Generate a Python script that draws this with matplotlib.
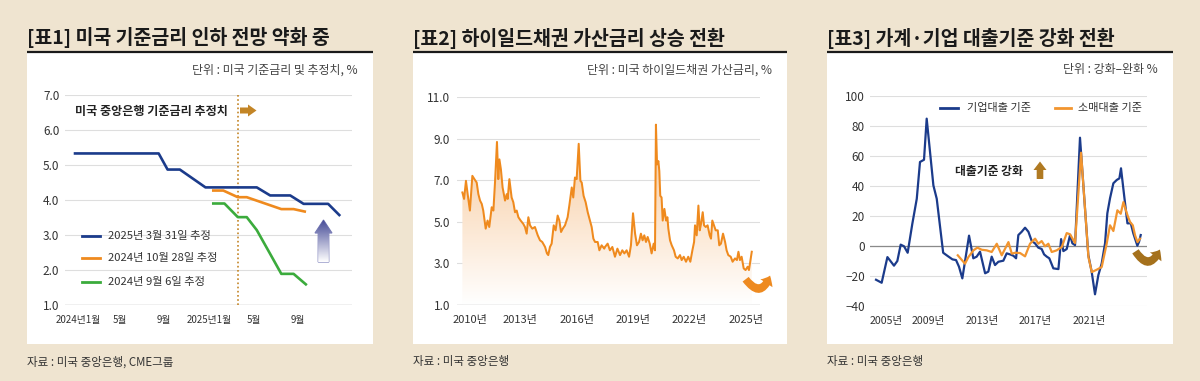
import numpy as np
import matplotlib
matplotlib.use('Agg')
import matplotlib.pyplot as plt
from matplotlib.patches import Rectangle, Polygon, FancyArrowPatch, ArrowStyle
from matplotlib.colors import LinearSegmentedColormap

plt.rcParams['font.family'] = ['Noto Sans CJK KR', 'DejaVu Sans']
plt.rcParams['axes.unicode_minus'] = True

# ---------------- data ----------------
titles = ['[표1] 미국 기준금리 인하 전망 약화 중',
          '[표2] 하이일드채권 가산금리 상승 전환',
          '[표3] 가계·기업 대출기준 강화 전환']
units = ['단위 : 미국 기준금리 및 추정치, %',
         '단위 : 미국 하이일드채권 가산금리, %',
         '단위 : 강화–완화 %']
sources = ['자료 : 미국 중앙은행, CME그룹', '자료 : 미국 중앙은행', '자료 : 미국 중앙은행']

# Panel 1 : months since 2024-01
p1_xticks = [0, 4, 8, 12, 16, 20]
p1_xlabels = ['2024년1월', '5월', '9월', '2025년1월', '5월', '9월']
p1_yticks = [1, 2, 3, 4, 5, 6, 7]
est_0331_m = [0, 7.5, 8.3, 9.4, 11.7, 16.3, 17.5, 19.3, 20.5, 22.7, 23.7]
est_0331_v = [5.33, 5.33, 4.87, 4.87, 4.36, 4.36, 4.13, 4.13, 3.89, 3.89, 3.57]
est_1028_m = [12.4, 13.3, 14.6, 15.4, 18.5, 19.6, 20.6]
est_1028_v = [4.27, 4.27, 4.08, 4.08, 3.74, 3.74, 3.67]
est_0906_m = [12.4, 13.4, 14.6, 15.4, 16.3, 17.5, 18.5, 19.6, 20.7]
est_0906_v = [3.90, 3.90, 3.51, 3.51, 3.14, 2.46, 1.89, 1.89, 1.59]
p1_now_m = 14.6
p1_labels = ['2025년 3월 31일 추정', '2024년 10월 28일 추정', '2024년 9월 6일 추정']

# Panel 2 : high-yield spread
p2_xticks = [2010, 2013, 2016, 2019, 2022, 2025]
p2_yticks = [1, 3, 5, 7, 9, 11]
hy_year = [2009.92, 2010.01, 2010.11, 2010.20, 2010.32, 2010.45, 2010.56, 2010.68, 2010.77, 2010.86,
           2010.95, 2011.03, 2011.16, 2011.26, 2011.35, 2011.48, 2011.57, 2011.66, 2011.76, 2011.83,
           2011.89, 2011.97, 2012.06, 2012.19, 2012.28, 2012.33, 2012.42, 2012.54, 2012.63, 2012.72,
           2012.81, 2012.90, 2013.02, 2013.16, 2013.25, 2013.34, 2013.43, 2013.52, 2013.64, 2013.78,
           2013.93, 2014.05, 2014.17, 2014.32, 2014.42, 2014.49, 2014.58, 2014.67, 2014.78, 2014.88,
           2014.99, 2015.08, 2015.17, 2015.26, 2015.38, 2015.52, 2015.61, 2015.74, 2015.82, 2015.91,
           2016.00, 2016.11, 2016.20, 2016.27, 2016.37, 2016.48, 2016.59, 2016.71, 2016.80, 2016.89,
           2016.98, 2017.12, 2017.21, 2017.33, 2017.47, 2017.51, 2017.65, 2017.77, 2017.90, 2018.04,
           2018.17, 2018.31, 2018.43, 2018.54, 2018.66, 2018.79, 2018.89, 2019.00, 2019.11, 2019.21,
           2019.32, 2019.42, 2019.51, 2019.60, 2019.69, 2019.78, 2019.89, 2019.99, 2020.10, 2020.17,
           2020.22, 2020.28, 2020.35, 2020.40, 2020.45, 2020.52, 2020.58, 2020.67, 2020.76, 2020.83,
           2020.88, 2020.97, 2021.06, 2021.18, 2021.27, 2021.38, 2021.50, 2021.59, 2021.70, 2021.82,
           2021.94, 2022.05, 2022.16, 2022.25, 2022.30, 2022.39, 2022.48, 2022.55, 2022.62, 2022.71,
           2022.78, 2022.87, 2022.97, 2023.08, 2023.15, 2023.22, 2023.31, 2023.40, 2023.51, 2023.59,
           2023.68, 2023.79, 2023.90, 2023.98, 2024.07, 2024.20, 2024.30, 2024.43, 2024.53, 2024.61,
           2024.69, 2024.78, 2024.89, 2024.99, 2025.10, 2025.17, 2025.24, 2025.32]
hy_val = [6.41, 6.10, 6.97, 6.33, 5.54, 7.21, 7.05, 6.89, 6.33, 6.02,
          5.86, 5.54, 4.67, 5.06, 4.75, 5.70, 5.54, 6.97, 8.84, 7.05,
          8.00, 7.52, 6.65, 6.02, 6.33, 6.10, 7.05, 6.17, 5.94, 5.46,
          5.54, 5.22, 5.06, 4.90, 4.75, 4.43, 5.22, 4.83, 4.67, 4.75,
          4.35, 4.11, 4.03, 3.79, 3.48, 3.40, 3.79, 3.95, 4.83, 4.59,
          5.30, 5.06, 4.51, 4.67, 4.83, 5.22, 5.78, 6.65, 6.17, 7.13,
          7.05, 8.75, 6.97, 6.89, 6.25, 5.94, 5.46, 5.06, 4.75, 4.19,
          4.03, 4.03, 3.63, 3.87, 3.71, 3.79, 3.95, 3.63, 3.79, 3.32,
          3.71, 3.40, 3.63, 3.48, 3.63, 3.32, 3.87, 5.41, 4.43, 3.87,
          4.03, 4.43, 4.11, 4.35, 4.03, 4.27, 3.95, 3.48, 3.95, 3.63,
          9.67, 7.76, 7.92, 7.44, 6.25, 6.17, 5.06, 5.62, 5.06, 5.22,
          4.67, 4.11, 3.87, 3.63, 3.32, 3.24, 3.40, 3.16, 3.32, 3.08,
          3.32, 3.08, 3.63, 4.03, 4.83, 4.35, 5.78, 4.59, 4.90, 5.46,
          4.83, 4.75, 4.83, 4.35, 4.19, 5.06, 4.83, 4.59, 4.59, 3.87,
          3.95, 4.43, 4.03, 3.63, 3.40, 3.32, 3.08, 3.24, 3.16, 3.56,
          3.16, 3.32, 2.76, 2.68, 2.84, 2.68, 3.08, 3.56]

# Panel 3 : loan standards (net % tightening)
p3_xticks = [2005, 2009, 2013, 2017, 2021]
p3_yticks = [-40, -20, 0, 20, 40, 60, 80, 100]
biz_year = [2005.09, 2005.51, 2005.94, 2006.43, 2006.68, 2006.93, 2007.18, 2007.45, 2007.80, 2008.13,
            2008.37, 2008.67, 2008.87, 2009.37, 2009.62, 2010.10, 2010.44, 2010.79, 2011.06, 2011.28,
            2011.53, 2012.03, 2012.35, 2012.60, 2012.85, 2013.23, 2013.47, 2013.72, 2013.97, 2014.22,
            2014.59, 2014.84, 2015.09, 2015.34, 2015.54, 2015.71, 2015.96, 2016.21, 2016.46, 2016.71,
            2016.95, 2017.20, 2017.45, 2017.63, 2017.83, 2018.02, 2018.32, 2018.70, 2018.90, 2019.07,
            2019.32, 2019.57, 2019.74, 2019.94, 2020.31, 2020.93, 2021.18, 2021.43, 2021.68, 2021.93,
            2022.18, 2022.35, 2022.55, 2022.80, 2023.05, 2023.25, 2023.37, 2023.60, 2023.85, 2024.10,
            2024.29, 2024.59, 2024.72, 2024.84]
biz_val = [-22.7, -24.7, -7.6, -13.3, -10.2, 0.7, -0.4, -4.7, 14.7, 31.3,
           55.8, 57.3, 84.7, 40.2, 31.3, -4.7, -6.9, -9.1, -9.6, -14.0,
           -21.8, 6.7, -8.4, -7.3, -4.0, -18.4, -17.3, -7.3, -12.9, -10.7,
           -10.0, -5.1, -5.8, -6.7, -8.4, 7.1, 9.3, 12.0, 9.3, 3.1,
           1.6, -1.3, -2.2, -5.8, -7.3, -8.4, -15.1, -15.6, 4.4, -3.6,
           -2.2, 7.1, 1.6, 0.4, 72.0, -6.2, -17.3, -32.4, -19.6, -11.8,
           1.6, 21.6, 31.6, 41.6, 43.8, 44.9, 51.6, 33.8, 14.9, 14.9,
           8.2, 0.0, 2.7, 7.1]
con_year = [2011.19, 2011.73, 2011.98, 2012.36, 2012.65, 2012.98, 2013.35, 2013.72, 2014.10, 2014.47,
            2014.97, 2015.22, 2015.47, 2015.84, 2016.21, 2016.58, 2016.96, 2017.20, 2017.45, 2017.70,
            2017.95, 2018.20, 2018.57, 2018.95, 2019.32, 2019.57, 2019.94, 2020.39, 2020.94, 2021.19,
            2021.56, 2021.93, 2022.30, 2022.55, 2022.80, 2023.10, 2023.35, 2023.55, 2023.75, 2023.90,
            2024.05, 2024.25, 2024.42, 2024.60, 2024.79]
con_val = [-6.4, -12.0, -7.6, -3.1, -1.3, -2.7, -3.1, -4.2, 1.3, -6.4,
           2.4, -5.3, -4.7, -4.9, -7.1, 1.3, 4.7, 1.3, 3.1, -0.4,
           1.3, -4.2, -3.1, -0.9, 8.4, 7.6, 1.8, 62.0, -7.6, -17.6,
           -16.0, -14.2, 1.3, 13.6, 9.8, 23.6, 21.3, 29.1, 23.1, 19.1,
           15.8, 13.6, 6.9, 2.4, 4.7]
p3_labels = ['기업대출 기준', '소매대출 기준']

# ---------------- styling ----------------
W, H = 1200, 381
BG = '#efe4d0'
NAVY = '#1b3b8b'
ORANGE = '#ef8a1e'
GREEN = '#3bab3c'
BROWN = '#c38526'
TXT = '#333333'

fig = plt.figure(figsize=(12, 3.81), dpi=100)
fig.patch.set_facecolor(BG)

bg = fig.add_axes([0, 0, 1, 1], zorder=0, label='bg')
bg.set_xlim(0, W); bg.set_ylim(H, 0); bg.axis('off')

panels = [(27, 373), (413, 787), (827, 1173)]
for (l, r), t, u, s in zip(panels, titles, units, sources):
    bg.add_patch(Rectangle((l, 53), r - l, 344 - 53, facecolor='white', edgecolor='none'))
    bg.plot([l, r], [52, 52], color='#1a1a1a', lw=1.6, solid_capstyle='butt')
    bg.text(l, 38, t, fontsize=14, fontweight='heavy', ha='left', va='center', color='#1a1a1a')
    bg.text(r - 15, 70, u, fontsize=8.6, ha='right', va='center', color='#444444')
    bg.text(l, 362, s, fontsize=8.3, ha='left', va='center', color=TXT)


def add_axes_px(left, top, right, bottom):
    return fig.add_axes([left / W, 1 - bottom / H, (right - left) / W, (bottom - top) / H], zorder=2)


def style(ax, yticks, ylabels, pad):
    ax.set_facecolor('none')
    for sp in ax.spines.values():
        sp.set_visible(False)
    ax.set_yticks(yticks)
    ax.set_yticklabels(ylabels)
    ax.grid(axis='y', color='#dedede', lw=0.8)
    ax.set_axisbelow(True)
    ax.set_xticks([])
    ax.tick_params(axis='y', length=0, labelsize=8.5, colors=TXT, pad=pad)


def xlabels(ax, pos, labs, size, first_dx=0):
    for i, (p, lab) in enumerate(zip(pos, labs)):
        ax.annotate(lab, xy=(p, 0), xycoords=('data', 'axes fraction'),
                    xytext=(first_dx if i == 0 else 0, -10.8), textcoords='offset points',
                    ha='center', va='center', fontsize=size, color=TXT, annotation_clip=False)


# ---- Panel 1 ----
ax1 = add_axes_px(65, 95, 352, 305)
ax1.set_xlim(-0.9, 24.84); ax1.set_ylim(1, 7)
style(ax1, p1_yticks, [f'{v:.1f}' for v in p1_yticks], 4.0)
ax1.axhline(1, color='#9a9a9a', lw=0.9)
ax1.axvline(p1_now_m, color=BROWN, lw=1.2, ls=(0, (1, 1.5)))
ax1.plot(est_0331_m, est_0331_v, color=NAVY, lw=1.9)
ax1.plot(est_1028_m, est_1028_v, color=ORANGE, lw=1.9)
ax1.plot(est_0906_m, est_0906_v, color=GREEN, lw=1.9)
xlabels(ax1, p1_xticks, p1_xlabels, 7.0, first_dx=2)

# ---- Panel 2 ----
ax2 = add_axes_px(457, 97, 760, 305)
style(ax2, p2_yticks, [f'{v:.1f}' for v in p2_yticks], 5)
ax2.axhline(1, color='#9a9a9a', lw=0.9)
cmap = LinearSegmentedColormap.from_list('f', ['#ffffff', '#f7c594'])
grad = np.linspace(0, 1, 256).reshape(-1, 1)
im = ax2.imshow(grad, extent=[hy_year[0], hy_year[-1], 1, 10], origin='lower',
                aspect='auto', cmap=cmap, zorder=1.5)
verts = list(zip(hy_year, hy_val)) + [(hy_year[-1], 1.0), (hy_year[0], 1.0)]
clip = Polygon(verts, closed=True, facecolor='none', edgecolor='none', transform=ax2.transData)
ax2.add_patch(clip)
im.set_clip_path(clip)
ax2.plot(hy_year, hy_val, color=ORANGE, lw=1.45, zorder=3)
ax2.set_xlim(2009.633, 2025.758); ax2.set_ylim(1, 11)
xlabels(ax2, p2_xticks, [f'{y}년' for y in p2_xticks], 8.0, first_dx=4.5)

# ---- Panel 3 ----
ax3 = add_axes_px(870, 95.7, 1147, 305.7)
ax3.set_xlim(2004.64, 2025.31); ax3.set_ylim(-40, 100)
style(ax3, p3_yticks, [str(v).replace('-', '\u2212') for v in p3_yticks], 3.6)
ax3.axhline(0, color='#8a8a8a', lw=0.9)
ax3.plot(biz_year, biz_val, color=NAVY, lw=1.6, zorder=3)
ax3.plot(con_year, con_val, color='#f2952f', lw=1.6, zorder=4)
xlabels(ax3, p3_xticks, [f'{y}년' for y in p3_xticks], 7.6, first_dx=8)

# ---------------- overlay annotations ----------------
fg = fig.add_axes([0, 0, 1, 1], zorder=10, label='fg')
fg.set_xlim(0, W); fg.set_ylim(H, 0); fg.axis('off')

# panel 1 legend
leg_cols = [NAVY, ORANGE, GREEN]
for yy, c, lab in zip([236, 258, 282], leg_cols, p1_labels):
    fg.plot([82, 100], [yy, yy], color=c, lw=2)
    fg.text(108, yy, lab, fontsize=8.1, ha='left', va='center', color=TXT)
fg.text(75, 111, '미국 중앙은행 기준금리 추정치', fontsize=8.7, fontweight='bold',
        ha='left', va='center', color='#222222')
fg.add_patch(Polygon([(240, 107.5), (248, 107.5), (248, 104.5), (256.5, 110.5),
                      (248, 116.5), (248, 113.5), (240, 113.5)], closed=True,
                     facecolor=BROWN, edgecolor='none'))

# panel 1 gradient up arrow
up_pts = [(323.5, 220), (332, 233), (328.8, 233), (328.8, 262), (318.2, 262),
          (318.2, 233), (315, 233)]
up_poly = Polygon(up_pts, closed=True, facecolor='none', edgecolor='#7478b6', lw=0.8)
fg.add_patch(up_poly)
ucmap = LinearSegmentedColormap.from_list('u', ['#474c98', '#ffffff'])
uim = fg.imshow(np.linspace(0, 1, 100).reshape(-1, 1), extent=[314, 333, 262, 220],
                origin='upper', aspect='auto', cmap=ucmap, zorder=1)
uim.set_clip_path(up_poly)

# panel 2 curved arrow
fg.add_patch(FancyArrowPatch((744, 277), (771, 273), connectionstyle='arc3,rad=1.0',
                             arrowstyle=ArrowStyle.Simple(head_length=0.55, head_width=0.95, tail_width=0.5),
                             mutation_scale=11, color='#ee8a20', lw=0))

# panel 3 legend and annotations
fg.plot([940, 958], [108, 108], color=NAVY, lw=2)
fg.text(967, 108, p3_labels[0], fontsize=8.0, ha='left', va='center', color=TXT)
fg.plot([1055, 1071], [108, 108], color='#f2952f', lw=2)
fg.text(1078, 108, p3_labels[1], fontsize=8.0, ha='left', va='center', color=TXT)
fg.text(955, 171, '대출기준 강화', fontsize=8.5, fontweight='bold', ha='left', va='center', color='#222222')
fg.add_patch(Polygon([(1040, 161.5), (1046.5, 170), (1043.3, 170), (1043.3, 179),
                      (1036.7, 179), (1036.7, 170), (1033.5, 170)], closed=True,
                     facecolor='#b07a22', edgecolor='none'))
fg.add_patch(FancyArrowPatch((1134, 249), (1161, 247), connectionstyle='arc3,rad=1.0',
                             arrowstyle=ArrowStyle.Simple(head_length=0.55, head_width=0.95, tail_width=0.5),
                             mutation_scale=11, color='#a5711c', lw=0))

fg.set_xlim(0, W); fg.set_ylim(H, 0)

fig.savefig('out.png', dpi=100, facecolor=BG)
